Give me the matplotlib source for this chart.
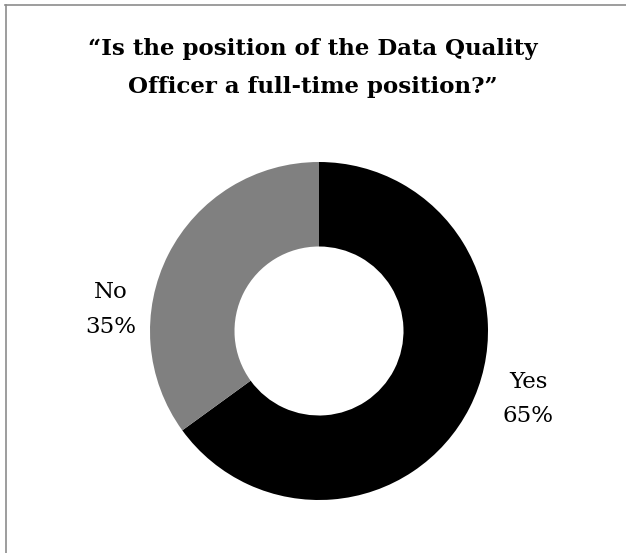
import numpy as np
import matplotlib.pyplot as plt
from matplotlib.lines import Line2D

categories = ['Yes', 'No']
shares = [65, 35]
colors = ['#000000', '#808080']
title = '\u201cIs the position of the Data Quality\nOfficer a full-time position?\u201d'

plt.rcParams['font.family'] = ['DejaVu Serif']

W, H = 626, 553
fig = plt.figure(figsize=(W / 100, H / 100), dpi=100)
ax = fig.add_axes([0, 0, 1, 1])

cx, cy, r = 319, H - 331, 169
wedges, _ = ax.pie(shares, colors=colors, startangle=90, counterclock=False,
                   center=(cx, cy), radius=r, wedgeprops=dict(width=r * 0.5, linewidth=0))
ax.set_xlim(0, W)
ax.set_ylim(0, H)
ax.set_aspect('equal')
ax.axis('off')

# data labels sit outside the ring, Excel-style
label_pos = {'Yes': (-18, 1.30), 'No': (174.2, 1.237)}
for cat, val in zip(categories, shares):
    ang, dist = label_pos[cat]
    tx = cx + dist * r * np.cos(np.radians(ang))
    ty = cy + dist * r * np.sin(np.radians(ang))
    ax.text(tx, ty, '%s\n%d%%' % (cat, val), ha='center', va='center',
            fontsize=16.5, linespacing=1.75)

fig.text(0.5, 1 - 68 / H, title, ha='center', va='center', fontsize=16.5,
         fontweight='bold', linespacing=1.9)

# chart area border (top and left edges visible)
fig.add_artist(Line2D([5 / W, 1], [1 - 5 / H, 1 - 5 / H], color='#8c8c8c', lw=1.2))
fig.add_artist(Line2D([6 / W, 6 / W], [0, 1 - 5 / H], color='#8c8c8c', lw=1.2))

fig.savefig('out.png', dpi=100)
